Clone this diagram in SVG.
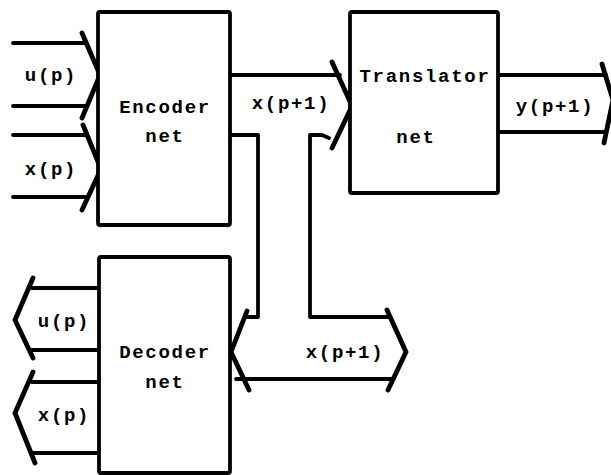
<svg xmlns="http://www.w3.org/2000/svg" width="611" height="475" viewBox="0 0 611 475">
<style>
.box{fill:#fff;stroke:#000;stroke-width:3.8;stroke-linejoin:round}
.ln{fill:none;stroke:#000;stroke-width:3.8;stroke-linecap:round;stroke-linejoin:round}
.chev{fill:none;stroke:#000;stroke-width:4.8;stroke-linecap:round;stroke-linejoin:miter}
text{font-family:"Liberation Mono","DejaVu Sans Mono",monospace;font-weight:bold;font-size:19px;letter-spacing:1.7px;fill:#000}
.c{text-anchor:middle}
</style>
<rect width="611" height="475" fill="#fff"/>
<g id="connectors">
  <!-- u(p) input bus -->
  <path class="ln" d="M13,43 H86 M13,106 H86"/>
  <polyline class="chev" points="82,33 100,75 82,118"/>
  <!-- x(p) input bus -->
  <path class="ln" d="M13,135 H86 M13,197 H86"/>
  <polyline class="chev" points="83,125 101,169 82,210"/>
  <!-- x(p+1) encoder to translator -->
  <path class="ln" d="M230,75 H340"/>
  <path class="ln" d="M230,135 H258 V317 H247"/>
  <path class="ln" d="M329,138 L322,135 H310 V317 H388"/>
  <polyline class="chev" points="332,62 352,106 332,148"/>
  <!-- x(p+1) bus into decoder -->
  <polyline class="chev" points="247,311 231,352 249,390"/>
  <path class="ln" d="M236,379 H392"/>
  <polyline class="chev" points="387,310 406,352 388,390"/>
  <!-- y(p+1) output bus -->
  <path class="ln" d="M498,75 H606 M498,132 H606"/>
  <polyline class="chev" points="602,64 613,100 604,143"/>
  <!-- decoder outputs -->
  <path class="ln" d="M98,288 H32 M98,350 H32"/>
  <polyline class="chev" points="33,278 15,320 33,358"/>
  <path class="ln" d="M98,382 H32 M98,453 H32"/>
  <polyline class="chev" points="33,372 15,413 35,463"/>
</g>
<g id="encoder">
  <rect class="box" x="98" y="12" width="132" height="213" rx="2"/>
  <text class="c" x="165" y="113">Encoder</text>
  <text class="c" x="165" y="142">net</text>
</g>
<g id="translator">
  <rect class="box" x="350" y="12" width="148" height="181" rx="2"/>
  <text class="c" x="425" y="82">Translator</text>
  <text class="c" x="416" y="143">net</text>
</g>
<g id="decoder">
  <rect class="box" x="99" y="257" width="131" height="216" rx="2"/>
  <text class="c" x="165" y="358">Decoder</text>
  <text class="c" x="165" y="388">net</text>
</g>
<g id="labels">
  <text class="c" x="51" y="81">u(p)</text>
  <text class="c" x="51" y="175">x(p)</text>
  <text class="c" x="291" y="109">x(p+1)</text>
  <text class="c" x="555" y="112">y(p+1)</text>
  <text class="c" x="64" y="327">u(p)</text>
  <text class="c" x="64" y="421">x(p)</text>
  <text class="c" x="345" y="358">x(p+1)</text>
</g>
</svg>
